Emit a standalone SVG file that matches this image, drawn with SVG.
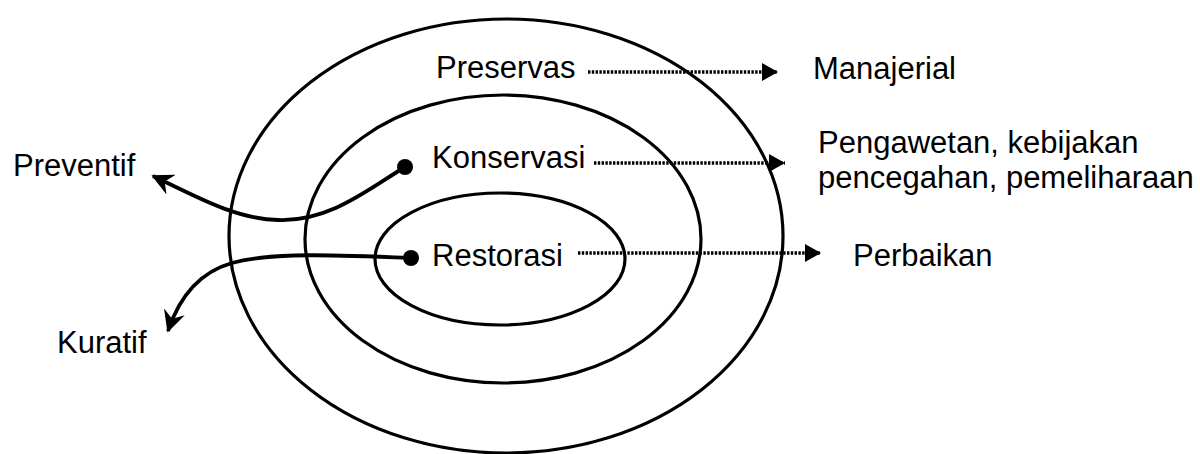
<svg xmlns="http://www.w3.org/2000/svg" width="1200" height="454" viewBox="0 0 1200 454">
<style>
  text { font-family: "Liberation Sans", Arial, sans-serif; font-size: 31px; fill: #000; }
  .ring { fill: none; stroke: #000; stroke-width: 3.2; }
  .curve { fill: none; stroke: #000; stroke-width: 3.8; }
  .dotted { fill: none; stroke: #000; stroke-width: 3.6; stroke-dasharray: 2.4 1.4; }
</style>
<defs>
  <marker id="tri" markerUnits="userSpaceOnUse" markerWidth="18" markerHeight="20" viewBox="-17 -10 18 20" refX="0" refY="0" orient="auto">
    <path d="M0,0 L-16,-9 L-16,9 Z" fill="#000"/>
  </marker>
  <marker id="stealth" markerUnits="userSpaceOnUse" markerWidth="22" markerHeight="22" viewBox="-20 -11 22 22" refX="0" refY="0" orient="auto">
    <path d="M0,0 L-18,-9 L-12,0 L-18,9 Z" fill="#000" stroke="#000" stroke-width="1.5" stroke-linejoin="miter"/>
  </marker>
</defs>

<g id="rings">
  <ellipse id="outer" class="ring" cx="506" cy="236" rx="277" ry="217"/>
  <ellipse id="middle" class="ring" cx="503" cy="239" rx="198" ry="144"/>
  <ellipse id="inner" class="ring" cx="500" cy="259" rx="125" ry="66"/>
</g>

<g id="connectors">
  <path class="dotted" d="M588,72 L778,72" marker-end="url(#tri)"/>
  <path class="dotted" d="M594,163 L785,163" marker-end="url(#tri)"/>
  <path class="dotted" d="M578,253 L821,253" marker-end="url(#tri)"/>
  <path class="curve" d="M405,167 C370,188 330,222 278,220 C235,219 195,196 153,176" marker-end="url(#stealth)"/>
  <path class="curve" d="M411,258 C340,255 270,252 232,263 C200,272 180,295 168,331" marker-end="url(#stealth)"/>
  <circle cx="405" cy="167" r="8" fill="#000"/>
  <circle cx="411" cy="258" r="8" fill="#000"/>
</g>

<g id="preservas"><text x="436" y="78">Preservas</text></g>
<g id="manajerial"><text x="813" y="79">Manajerial</text></g>
<g id="konservasi"><text x="432" y="168">Konservasi</text></g>
<g id="pengawetan">
  <text x="818" y="153">Pengawetan, kebijakan</text>
  <text x="818" y="188">pencegahan, pemeliharaan</text>
</g>
<g id="restorasi"><text x="432" y="266">Restorasi</text></g>
<g id="perbaikan"><text x="853" y="266">Perbaikan</text></g>
<g id="preventif"><text x="13" y="176">Preventif</text></g>
<g id="kuratif"><text x="57" y="353">Kuratif</text></g>
</svg>
